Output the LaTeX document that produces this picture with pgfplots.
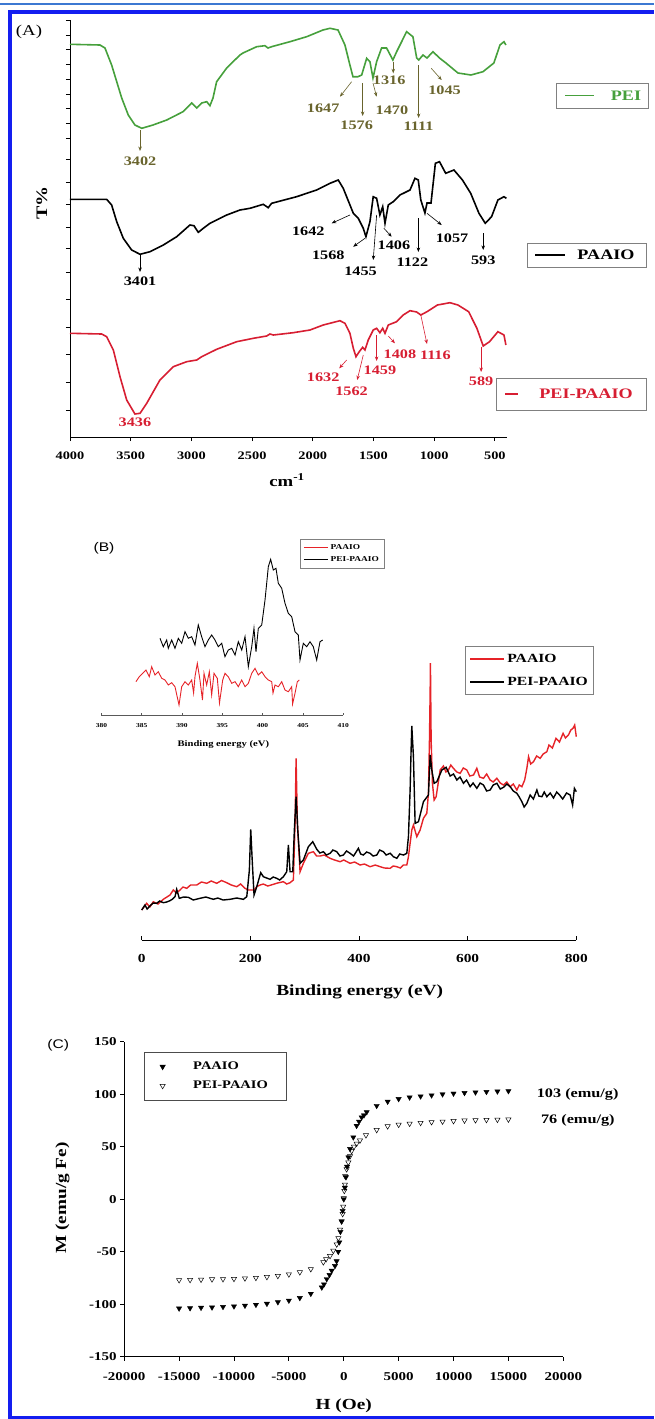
\documentclass[border=0pt]{standalone}
\usepackage{fontspec}
\setmainfont{Liberation Serif}[FakeStretch=1.25]
\newfontfamily\labsans{Liberation Sans}[FakeStretch=1.25]
\usepackage{pgfplots}
\pgfplotsset{compat=1.18}
\usetikzlibrary{arrows.meta}

\definecolor{peigreen}{RGB}{70,160,60}
\definecolor{olivec}{RGB}{105,100,45}
\definecolor{redA}{RGB}{215,30,50}
\definecolor{redB}{RGB}{230,35,40}
\definecolor{frameblue}{RGB}{20,30,240}
\definecolor{thinblue}{RGB}{60,120,210}

\newcommand{\fs}[1]{\fontsize{#1}{#1}\selectfont}
\tikzset{ann/.style={-{Stealth[length=4.5pt,width=3.5pt]}, line width=0.6pt}}
\pgfplotsset{every axis/.append style={
  scale only axis, clip=false,
  axis line style={-, line width=0.9pt},
  /pgf/number format/assume math mode=true,
  /pgf/number format/1000 sep={},
  scaled ticks=false}}

\begin{document}
\begin{tikzpicture}
\path[use as bounding box] (0pt,0pt) rectangle (654pt,-1419pt);

% frame of the figure
\fill[thinblue] (0pt,-3pt) rectangle (654pt,-4.5pt);
\fill[frameblue] (8pt,-10pt) rectangle (654pt,-14pt);
\fill[frameblue] (8pt,-10pt) rectangle (12pt,-1419pt);
\fill[frameblue] (8pt,-1415.5pt) rectangle (654pt,-1419pt);

% ---------------- (A) FTIR ----------------
\begin{axis}[at={(70pt,-437pt)}, anchor=south west, width=437pt, height=417pt,
  xmin=400, xmax=4000, x dir=reverse, ymin=0, ymax=417,
  axis x line*=bottom, axis y line*=left,
  xtick={500,1000,...,4000},
  ytick={27,55,83,110,138,165,189,210,233,255,278,299,314,329,343,358,373,388,402,417},
  yticklabels={},
  tick align=outside, major tick length=4pt, tick style={line width=0.8pt, black},
  xticklabel style={font=\bfseries\fs{11.5}, yshift=-7pt}]
\addplot[peigreen, line width=1.6pt] coordinates {
 (4000,392.7)(3753,392)(3712,389)(3657,372)(3615,355.3)(3574,339)(3520,322)(3465,312)
 (3409,308.7)(3316,312)(3203,317)(3069,325.3)(2998,334)(2956,329)(2915,334)(2874,335.3)
 (2847,331.3)(2822,339)(2792,355.3)(2709,369)(2600,382)(2575,384)(2462,390.3)(2394,391.3)
 (2369,389)(2339,390.3)(2188,395.3)(2050,400.3)(1916,407)(1858,408.7)(1792,407)(1735,392)
 (1694,372)(1669,360.3)(1628,360.3)(1597,362)(1556,378.7)(1529,375.3)(1504,359)(1474,375.3)
 (1433,389)(1392,389)(1340,377)(1309,385.3)(1227,405.3)(1175,400.3)(1144,379)(1127,377)
 (1092,382)(1059,379)(1010,385.3)(956,379)(903,374)(804,364)(697,362)(598,365.3)
 (508,374)(458,392)(425,395.3)(409,392)};
\addplot[black, line width=1.6pt] coordinates {
 (4000,237.7)(3698,237.7)(3657,232)(3615,215.3)(3561,198.7)(3492,187)(3423,182.7)(3341,185.3)
 (3231,192)(3121,200.3)(3012,212)(2979,211.3)(2943,204.7)(2902,208.7)(2847,213.7)(2709,222)
 (2600,227)(2517,228.7)(2408,232.7)(2367,229.3)(2339,233.7)(2133,240.3)(1968,247)(1858,253.7)
 (1790,257)(1749,248.7)(1666,223.7)(1625,218.7)(1584,208.7)(1562,200.3)(1529,215.3)(1502,240.3)
 (1474,238.7)(1447,222)(1424,230.3)(1405,213.7)(1378,232)(1337,235.3)(1282,242)(1199,247)
 (1158,258.7)(1131,257)(1110,237)(1076,224)(1059,234)(1026,234)(990,273.7)(956,275.3)
 (905,263.7)(837,267)(767,257)(699,243.7)(631,223.7)(579,213.7)(527,220.3)(475,237)
 (425,240.3)(405,238.7)};
\addplot[redA, line width=1.6pt] coordinates {
 (4000,103.7)(3739,103)(3698,100.3)(3643,87)(3588,60.3)(3533,37)(3465,23)(3423,23.7)
 (3368,33.7)(3259,57)(3149,70.3)(3039,75.3)(2956,77)(2915,80.3)(2792,87.7)(2627,95.3)
 (2490,98.7)(2380,101)(2353,103)(2325,102)(2161,104.3)(2023,107)(1914,112)(1776,116.3)
 (1735,113.7)(1694,103.7)(1666,88.7)(1644,80.3)(1617,85.3)(1589,89.7)(1570,87)(1543,97)
 (1502,107)(1474,108.7)(1447,104.3)(1424,108.7)(1405,103.7)(1378,112)(1309,115.3)(1255,122)
 (1199,126.3)(1144,125)(1110,122)(1059,125.3)(973,132)(870,134.3)(804,132)(716,125.3)
 (648,108.7)(596,91)(544,95.3)(475,105.3)(425,102)(409,92)};
% PEI peaks
\begin{scope}[olivec]
\draw[ann] (axis cs:3423,307) -- (axis cs:3423,286);
\node[font=\bfseries\fs{13}] at (axis cs:3423,275.3) {3402};
\draw[ann] (axis cs:1680,355.3) -- (axis cs:1776,340.3);
\node[font=\bfseries\fs{13}] at (axis cs:1914,328.7) {1647};
\draw[ann] (axis cs:1589,354) -- (axis cs:1589,321);
\node[font=\bfseries\fs{13}] at (axis cs:1638,312) {1576};
\draw[ann] (axis cs:1504,354) -- (axis cs:1474,340.3);
\node[font=\bfseries\fs{13}] at (axis cs:1348,327) {1470};
\draw[ann] (axis cs:1337,375.3) -- (axis cs:1337,363.7);
\node[font=\bfseries\fs{13}] at (axis cs:1371,357) {1316};
\draw[ann] (axis cs:1128,372) -- (axis cs:1128,319);
\node[font=\bfseries\fs{13}] at (axis cs:1128,310.3) {1111};
\draw[ann] (axis cs:1024,368.7) -- (axis cs:938,357);
\node[font=\bfseries\fs{13}] at (axis cs:914,347) {1045};
\end{scope}
% PAAIO peaks
\begin{scope}[black]
\draw[ann] (axis cs:3423,182) -- (axis cs:3423,165);
\node[font=\bfseries\fs{13}] at (axis cs:3423,155.3) {3401};
\draw[ann] (axis cs:1694,222) -- (axis cs:1844,213.7);
\node[font=\bfseries\fs{13}] at (axis cs:2037,205.3) {1642};
\draw[ann] (axis cs:1570,198.7) -- (axis cs:1667,190.3);
\node[font=\bfseries\fs{13}] at (axis cs:1872,182) {1568};
\draw[ann] (axis cs:1474,222) -- (axis cs:1502,177);
\node[font=\bfseries\fs{13}] at (axis cs:1606,165.3) {1455};
\draw[ann] (axis cs:1414,208.7) -- (axis cs:1350,200.3);
\node[font=\bfseries\fs{13}] at (axis cs:1331,192) {1406};
\draw[ann] (axis cs:1130,219) -- (axis cs:1130,185);
\node[font=\bfseries\fs{13}] at (axis cs:1179,175.3) {1122};
\draw[ann] (axis cs:1059,223.7) -- (axis cs:938,212);
\node[font=\bfseries\fs{13}] at (axis cs:853,198.7) {1057};
\draw[ann] (axis cs:596,203.7) -- (axis cs:596,187);
\node[font=\bfseries\fs{13}] at (axis cs:596,177) {593};
\end{scope}
% PEI-PAAIO peaks
\begin{scope}[redA]
\node[font=\bfseries\fs{13}] at (axis cs:3465,14.7) {3436};
\draw[ann] (axis cs:1721,77) -- (axis cs:1782,68.7);
\node[font=\bfseries\fs{13}] at (axis cs:1914,59.7) {1632};
\draw[ann] (axis cs:1584,82) -- (axis cs:1634,57);
\node[font=\bfseries\fs{13}] at (axis cs:1680,45.3) {1562};
\draw[ann] (axis cs:1474,102) -- (axis cs:1474,76);
\node[font=\bfseries\fs{13}] at (axis cs:1447,67) {1459};
\draw[ann] (axis cs:1378,101) -- (axis cs:1323,93.7);
\node[font=\bfseries\fs{13}] at (axis cs:1282,83) {1408};
\draw[ann] (axis cs:1110,122) -- (axis cs:1059,93);
\node[font=\bfseries\fs{13}] at (axis cs:990,82) {1116};
\draw[ann] (axis cs:613,90.3) -- (axis cs:613,65);
\node[font=\bfseries\fs{13}] at (axis cs:613,55.3) {589};
\end{scope}
\end{axis}
\node[font=\fs{15}] at (29pt,-32pt) {(A)};
\node[font=\bfseries\fs{16}, rotate=90] at (42pt,-203pt) {T\%};
\node[font=\bfseries\fs{15}] at (287pt,-480pt) {cm\textsuperscript{-1}};
% legend boxes of (A)
\draw[gray, line width=0.8pt] (556pt,-83pt) rectangle (648pt,-108pt);
\draw[peigreen, line width=1.8pt] (565pt,-95.5pt) -- (594pt,-95.5pt);
\node[font=\bfseries\fs{14.5}, text=peigreen] at (626pt,-95.5pt) {PEI};
\draw[gray, line width=0.8pt] (527pt,-243pt) rectangle (646pt,-267pt);
\draw[black, line width=1.8pt] (535pt,-255pt) -- (565pt,-255pt);
\node[font=\bfseries\fs{14.5}] at (606pt,-255pt) {PAAIO};
\draw[gray, line width=0.8pt] (496pt,-378pt) rectangle (646pt,-410pt);
\draw[redA, line width=1.8pt] (505pt,-394pt) -- (518pt,-394pt);
\node[font=\bfseries\fs{14.5}, text=redA] at (586pt,-394pt) {PEI-PAAIO};

% ---------------- (B) XPS ----------------
\node[font=\labsans\fs{12.5}] at (104pt,-548pt) {(B)};
\begin{axis}[at={(141.7pt,-940pt)}, anchor=south west, width=434.6pt, height=290pt,
  xmin=0, xmax=800, ymin=0, ymax=290,
  axis x line*=bottom, axis y line=none,
  xtick={0,200,...,800}, tick align=inside, major tick length=4pt,
  tick style={line width=0.8pt, black},
  xticklabel style={font=\bfseries\fs{12.3}, yshift=-11pt},
  legend style={at={(0.744,1.015)}, anchor=north west, draw=gray, line width=0.6pt,
    font=\bfseries\fs{12.5}, inner xsep=4pt, inner ysep=6pt, row sep=9pt},
  legend cell align=left,
  legend image code/.code={\draw[#1, line width=2pt] (0pt,0pt) -- (34pt,0pt);}]
\addplot[redB, line width=1.4pt] coordinates {
 (0,30)(9.2,36.7)(15,33)(21.4,38.3)(30,36)(39.8,40.7)(52.1,45)(58.2,50)(64,47)(70.5,50)
 (76,53)(82.9,51.7)(90,55)(101.3,55)(110,58)(119.7,56.7)(128,59)(138.1,56.7)(147,59.5)
 (156.5,57.3)(165,55)(175,53.3)(182,56)(190.2,51.7)(196.3,50)(202.6,50)(206.8,50)(211.8,53.3)
 (218,55)(224,56)(232,54)(242.4,55.7)(250,57)(260.8,58.3)(267,56)(273.1,57.3)(279.2,60)
 (282.3,116.7)(284.2,181.7)(286.6,116.7)(291.5,68.3)(297.6,76.7)(306.8,86.7)(316,88.3)
 (322,84)(328.4,84)(336,85)(346.8,81.7)(355,80)(365.2,78.3)(372,80)(383.6,76.7)(392,78)
 (402,75)(410,76)(420.4,73.3)(430,75)(438.9,73.3)(447,72)(457.3,71.7)(463,74)(469.6,73.3)
 (476,72)(481.8,75)(488,75)(491,83.3)(497.2,110)(500.2,115)(506.4,103.3)(512.5,110)
 (518.6,121.7)(524.8,126.7)(527.8,146.7)(529.7,200)(531,250)(531.5,277)(532.8,200)
 (535.2,156.7)(538.3,140)(542,143.3)(549.4,170)(555.4,174)(560,168)(564.6,170)(569,175)
 (573.8,171.7)(580,168)(586.2,166.7)(592,172)(598.5,170)(604,164)(610.7,165)(616.9,171.7)
 (622,163)(629.1,161.7)(635,166)(641.4,160)(647,158)(653.8,161.7)(660,157)(666,155)
 (672,158)(678.3,153.3)(684,156)(690.6,150)(695,155)(699.8,153.3)(705,160)(709,171.7)
 (712.1,183.3)(716,176)(721.2,178.3)(727,184)(733.5,181.7)(739,186)(745.8,188.3)(749.7,195)
 (756,192)(762.6,201.7)(769,198)(775.7,206.7)(780,202)(785.5,205)(790,210)(793.9,211.7)
 (797,215)(800,203.3)};
\addlegendentry{PAAIO}
\addplot[black, line width=1.4pt] coordinates {
 (0,30)(6,35)(10,31)(15,34)(21,37)(27.6,36.7)(33,39)(39.8,37.3)(46,38)(52,39.3)(57,41)
 (61.3,43.3)(64.4,50.7)(69.2,41.7)(77,43)(85.8,42.7)(95,40)(107.4,41.7)(118,43)(131.9,40.7)
 (140,42)(150,40)(162.6,40.7)(175,42)(187.1,40.7)(193.4,43.3)(198.2,70)(200.7,110.7)
 (203.7,76.7)(206.8,45)(211.8,53.3)(219.1,67.3)(224,63.3)(230,62)(236.3,60.7)(242,63)
 (248.6,61.7)(254,60)(260.8,63.3)(267,68.3)(270,95)(273.1,68.3)(278.1,68.3)(281,110)
 (284.2,143.3)(287.3,110)(291.5,76.7)(297.6,80)(306.8,93.3)(314.9,98.3)(322.3,90.7)
 (328,87)(334.4,88.3)(340,85)(346.8,86.7)(352,90)(359.1,88.3)(365,84)(371.3,85)(377,89)
 (383.6,86.7)(390,84)(398.9,91.7)(403,86)(408.1,85)(414,88)(420.4,86.7)(426,84)(432.8,85)
 (438,90)(444.9,88.3)(450,85)(457.3,86.7)(463.4,83.3)(469.6,81.7)(475,86)(481.8,85)(488,86.7)
 (491,103.3)(494.1,150)(495.9,190)(497.2,214)(500.2,183.3)(503.3,116.7)(509.4,118.3)
 (518.6,138.3)(527.8,145)(531,185)(534,170)(538.3,156.7)(543.3,158.3)(552.5,170)(560.4,172.7)
 (567.8,164)(574,166)(580.1,160)(586,163)(592.3,156.7)(598,160)(604.6,153.3)(610,157)
 (616.9,151.7)(623,157)(629.1,155)(635,149)(641.4,150)(647,155)(653.8,156.7)(660,151)
 (666,152.7)(672,156)(678.3,153.3)(684,149)(690.6,146.7)(695,143)(699.8,138.3)(704,133)
 (709,136.7)(715.1,145)(721,141)(727.4,150)(731,144)(736.6,143.3)(741,148)(745.8,143.3)
 (752,147)(758,142)(764,148)(769.2,145)(775,141)(782,147)(788.7,145)(793.2,135)(796.5,151.7)
 (800,148.3)};
\addlegendentry{PEI-PAAIO}
\end{axis}
\node[font=\bfseries\fs{15.5}] at (359.7pt,-991.7pt) {Binding energy (eV)};

% inset of (B)
\begin{axis}[at={(101.4pt,-715pt)}, anchor=south west, width=241.8pt, height=185pt,
  xmin=380, xmax=410, ymin=0, ymax=185,
  axis x line*=bottom, axis y line=none,
  axis line style={-, line width=0.6pt, gray!70!black},
  xtick={380,385,...,410}, tick align=inside, major tick length=2.5pt,
  tick style={line width=0.5pt, gray!70!black},
  xticklabel style={font=\bfseries\fs{6}, yshift=-5pt},
  legend style={at={(0.821,0.95)}, anchor=north west, draw=gray, line width=0.5pt,
    font=\bfseries\fs{7.5}, inner xsep=3pt, inner ysep=3pt, row sep=1.5pt},
  legend cell align=left,
  legend image code/.code={\draw[#1, line width=1.5pt] (0pt,0pt) -- (24pt,0pt);}]
\addplot[redB, line width=0.9pt] coordinates {
 (384.29,33.3)(384.70,38.3)(385.12,41.7)(385.53,45)(385.94,38.3)(386.24,48.3)(386.65,40)
 (387.06,43.3)(387.48,36.7)(387.89,35)(388.30,30)(388.72,32.3)(389.13,28.3)(389.63,10)
 (389.96,28.3)(390.37,33.3)(390.78,30)(391.20,35)(391.44,22)(391.61,38.3)(391.90,51.7)
 (392.23,35)(392.54,15)(392.73,41.7)(393.06,30)(393.39,43.3)(393.68,20)(393.97,41.7)
 (394.38,36.7)(394.65,12)(395.05,35)(395.33,41.7)(395.74,38.3)(396.17,31.7)(396.58,33.3)
 (396.99,28.3)(397.41,35)(397.82,28.3)(398.23,31.7)(398.65,41.7)(399.06,46.7)(399.47,40)
 (399.89,43.3)(400.30,38.3)(400.71,35)(401.13,33.3)(401.29,22)(401.54,30)(401.95,28.3)
 (402.37,33.3)(402.78,25)(403.19,23.3)(403.61,28.3)(403.72,11)(404.02,21.7)(404.31,33.3)
 (404.55,35)};
\addlegendentry{PAAIO}
\addplot[black, line width=0.9pt] coordinates {
 (387.27,76.7)(387.68,68.3)(388.10,75)(388.30,66.7)(388.72,75)(389.13,66.7)(389.54,76.7)
 (389.96,71.7)(390.37,83.3)(390.78,76.7)(391.20,78.3)(391.61,70)(392.02,90)(392.44,78.3)
 (392.85,68.3)(393.26,75)(393.68,80)(394.09,75)(394.50,68.3)(394.93,71.7)(395.33,58.3)
 (395.74,65)(396.17,66.7)(396.58,60)(396.99,73.3)(397.41,65)(397.82,78.3)(398.23,48.3)
 (398.65,68.3)(398.93,86.7)(399.18,63.3)(399.47,86.7)(399.89,90)(400.30,115)(400.71,148.3)
 (401.00,155.7)(401.33,145)(401.66,146.7)(401.95,131.7)(402.37,126.7)(402.78,111.7)
 (403.19,101.7)(403.61,98.3)(404.02,83.3)(404.43,80)(404.64,55)(405.05,71.7)(405.47,68.3)
 (405.88,73.3)(406.29,68.3)(406.71,55)(407.12,73.3)(407.46,75)};
\addlegendentry{PEI-PAAIO}
\end{axis}
\node[font=\bfseries\fs{8.5}] at (223.3pt,-744pt) {Binding energy (eV)};

% ---------------- (C) magnetization ----------------
\node[font=\labsans\fs{12.5}] at (58.3pt,-1045pt) {(C)};
\begin{axis}[at={(124.2pt,-1356.7pt)}, anchor=south west, width=439.1pt, height=315pt,
  xmin=-20000, xmax=20000, ymin=-150, ymax=150,
  axis x line*=bottom, axis y line*=left,
  xtick={-20000,-15000,...,20000}, ytick={-150,-100,...,150},
  tick align=outside, major tick length=4pt, tick style={line width=0.8pt, black},
  ticklabel style={font=\bfseries\fs{12}},
  xticklabel style={yshift=-8pt},
  legend style={at={(0.0445,0.968)}, anchor=north west, draw=gray!60!black, line width=0.6pt,
    font=\bfseries\fs{11.6}, inner xsep=16pt, inner ysep=8pt, row sep=6pt},
  legend image post style={xshift=18pt},
  legend cell align=left]
\addplot[only marks, mark=triangle*, mark size=3pt, mark options={rotate=180, fill=black, draw=black}]
 coordinates {
 (-15000,-104)(-14000,-103.7)(-13000,-103.3)(-12000,-103)(-11000,-102.5)(-10000,-102)
 (-9000,-101.3)(-8000,-100.5)(-7000,-99.5)(-6000,-98)(-5000,-96.5)(-4000,-94)(-3000,-90)
 (-2000,-84)(-1800,-81)(-1550,-76)(-1300,-72)(-1100,-68)(-800,-63.5)(-650,-59)(-500,-50)
 (-400,-41)(-300,-31)(-200,-21)(-100,-11)(0,0)(100,11)(200,21)(300,31)(420,40)(570,48)
 (870,59)(1170,70)(1390,74)(1630,78)(1840,80)(2090,83)(3000,89)(4000,93)(5000,95.5)
 (6000,97)(7000,98)(8000,99)(9000,100)(10000,100.7)(11000,101.3)(12000,101.8)(13000,102.3)
 (14000,102.7)(15000,103)};
\addlegendentry{\hspace{26pt}PAAIO}
\addplot[only marks, mark=triangle, mark size=3pt, mark options={rotate=180, draw=black, line width=0.5pt, fill=white}]
 coordinates {
 (-15000,-77)(-14000,-76.8)(-13000,-76.5)(-12000,-76.2)(-11000,-76)(-10000,-75.8)
 (-9000,-75.3)(-8000,-74.8)(-7000,-74)(-6000,-73)(-5000,-71.5)(-4000,-69.5)(-3000,-66.5)
 (-1860,-60)(-1610,-57)(-1250,-54)(-950,-49)(-640,-43)(-490,-37)(-340,-29)(-190,-21)
 (-100,-14)(-50,-7)(0,1)(50,8)(110,14)(130,22)(265,28.6)(417,35)(568,41)(720,46)(932,50)
 (1174,53)(1477,56)(2023,61)(3000,66)(4000,69.5)(5000,71)(6000,72)(7000,72.8)(8000,73.5)
 (9000,74)(10000,74.5)(11000,75)(12000,75.3)(13000,75.6)(14000,75.8)(15000,76)};
\addlegendentry{\hspace{26pt}PEI-PAAIO}
\node[anchor=west, font=\bfseries\fs{13}] at (axis cs:17268,100) {103 (emu/g)};
\node[anchor=west, font=\bfseries\fs{13}] at (axis cs:17650,74.6) {76 (emu/g)};
\end{axis}
\node[font=\bfseries\fs{15.4}] at (343.75pt,-1406pt) {H (Oe)};
\node[font=\bfseries\fs{15.4}, rotate=90] at (62.5pt,-1198pt) {M (emu/g Fe)};
\end{tikzpicture}
\end{document}
